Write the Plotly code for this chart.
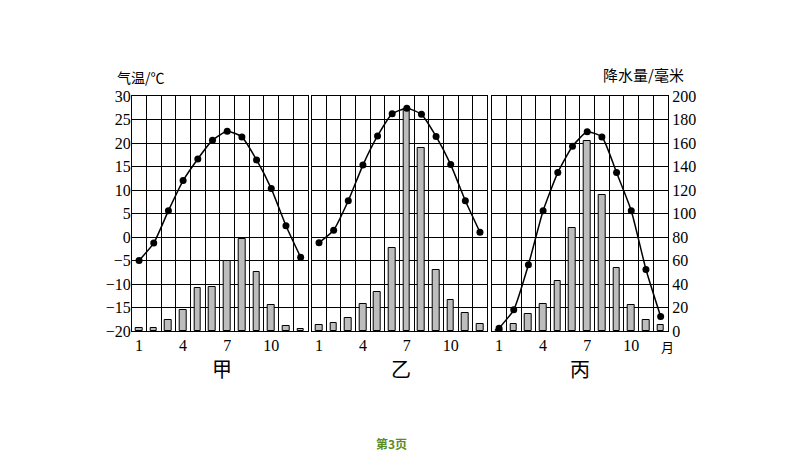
import plotly.graph_objects as go

months = list(range(1, 13))
month_ticks = [1, 4, 7, 10]
temp_ticks = [-20, -15, -10, -5, 0, 5, 10, 15, 20, 25, 30]
precip_ticks = [0, 20, 40, 60, 80, 100, 120, 140, 160, 180, 200]
panel_names = ["甲", "乙", "丙"]

temp_jia = [-5.0, -1.3, 5.6, 12.0, 16.6, 20.6, 22.5, 21.3, 16.4, 10.3, 2.4, -4.3]
precip_jia = [2.5, 2.5, 9.7, 18.2, 36.4, 37.2, 60, 78, 50, 22, 4.5, 1.7]

temp_yi = [-1.2, 1.45, 7.7, 15.3, 21.5, 26.2, 27.4, 26.1, 21.4, 15.4, 7.7, 1.0]
precip_yi = [4.8, 6.8, 10.8, 23.3, 33.2, 70.7, 189, 156, 52, 26.4, 15, 6]

temp_bing = [-19.4, -15.5, -5.9, 5.6, 13.7, 19.3, 22.4, 21.3, 13.7, 5.6, -6.9, -16.9]
precip_bing = [1.0, 6.3, 14.8, 23.3, 42.3, 87.8, 161.6, 115.9, 53.7, 22.2, 9.4, 4.8]

temps = [temp_jia, temp_yi, temp_bing]
precips = [precip_jia, precip_yi, precip_bing]

W, H = 794, 457
panel_px = [(131.7, 308.0), (311.7, 487.3), (491.7, 668.0)]
y_top, y_bot = 96.0, 331.0
ydom = [(H - y_bot) / H, (H - y_top) / H]

SERIF = "Liberation Serif"
CJK = "Noto Sans CJK SC"
TICK_SIZE = 16

fig = go.Figure()
layout = {}
for i in range(3):
    n = i + 1
    xname = "x" if n == 1 else f"x{n}"
    xkey = "xaxis" if n == 1 else f"xaxis{n}"
    pb = 2 * n - 1  # precip (base) axis index
    pt = 2 * n      # temp (overlay) axis index
    yb_name = "y" if pb == 1 else f"y{pb}"
    yb_key = "yaxis" if pb == 1 else f"yaxis{pb}"
    yt_name = f"y{pt}"
    yt_key = f"yaxis{pt}"

    fig.add_trace(go.Bar(
        x=months, y=precips[i], xaxis=xname, yaxis=yb_name,
        width=0.46, marker=dict(color="#bdbdbd", line=dict(color="black", width=1)),
        showlegend=False, hoverinfo="skip"))
    fig.add_trace(go.Scatter(
        x=months, y=temps[i], xaxis=xname, yaxis=yt_name, mode="lines+markers",
        line=dict(color="black", width=1.5, shape="spline", smoothing=0.5),
        marker=dict(color="black", size=7), showlegend=False, hoverinfo="skip"))

    x0, x1 = panel_px[i]
    layout[xkey] = dict(
        domain=[x0 / W, x1 / W], range=[0.5, 12.5], anchor=yb_name, automargin=False,
        tickmode="array", tickvals=month_ticks, ticktext=[str(m) for m in month_ticks],
        showgrid=False, zeroline=False, ticks="",
        showline=True, linecolor="black", linewidth=1.3, mirror=True,
        tickfont=dict(family=SERIF, size=TICK_SIZE, color="black"),
        minor=dict(tick0=0.5, dtick=1, showgrid=True, gridcolor="black", gridwidth=1.2, ticks=""),
    )
    layout[yb_key] = dict(
        domain=ydom, range=[0, 200], anchor=xname, side="right", automargin=False,
        tickmode="array", tickvals=precip_ticks,
        showticklabels=(n == 3), ticks="",
        showgrid=True, gridcolor="black", gridwidth=1.2, zeroline=False,
        showline=True, linecolor="black", linewidth=1.3, mirror=True,
        tickfont=dict(family=SERIF, size=TICK_SIZE, color="black"),
    )
    layout[yt_key] = dict(
        range=[-20, 30], overlaying=yb_name, anchor=xname, side="left", automargin=False,
        tickmode="array", tickvals=temp_ticks,
        showticklabels=(n == 1), ticks="", showgrid=False, zeroline=False,
        showline=False,
        tickfont=dict(family=SERIF, size=TICK_SIZE, color="black"),
    )


def ann(text, px, py, size, color="black"):
    return dict(text=text, x=px / W, y=(H - py) / H, xref="paper", yref="paper",
                xanchor="center", yanchor="middle", showarrow=False,
                font=dict(family=CJK, size=size, color=color))


annotations = [
    ann("气温/℃", 141, 77, 14),
    ann("降水量/毫米", 643, 75, 15),
    ann("月", 667, 346, 13),
    ann("<b>第3页</b>", 391, 443, 12, "#5b8c1e"),
]
centers = [222, 401, 580]
for name, cx in zip(panel_names, centers):
    annotations.append(ann(name, cx, 368, 20))

fig.update_layout(
    width=W, height=H, margin=dict(l=0, r=0, t=0, b=0, autoexpand=False),
    paper_bgcolor="white", plot_bgcolor="white",
    bargap=0, annotations=annotations, **layout)

fig.write_html("out.html", config={"displayModeBar": False},
               post_script="document.body.style.margin='0';document.body.style.overflow='hidden';")
